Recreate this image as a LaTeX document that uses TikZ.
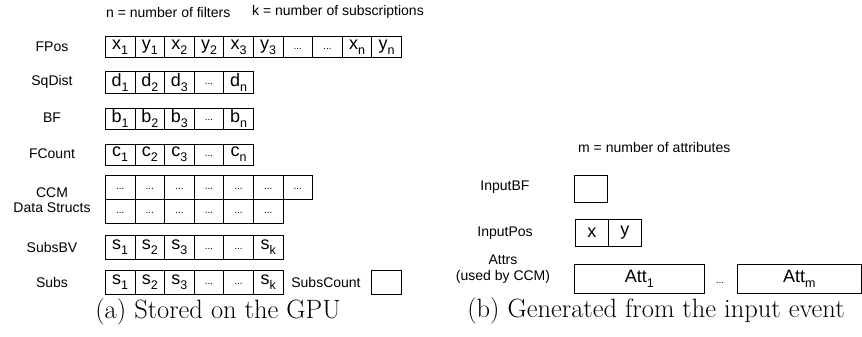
\documentclass[tikz,border=0pt]{standalone}
\usepackage{fontspec}
\newfontfamily\arialf{Liberation Sans}
\newcommand{\sbs}[2]{#1\raisebox{-0.28em}{\fontsize{12.5}{12.5}\selectfont #2}}
\newcommand{\dts}{\raisebox{-0.25em}{\fontsize{10}{10}\selectfont ...}}
\tikzset{
  cellbox/.style={draw, line width=0.8pt, minimum width=29.6pt, minimum height=24pt,
    inner sep=0pt, anchor=north west, font=\arialf\fontsize{18}{20}\selectfont},
  lowcell/.style={cellbox, minimum height=21pt},
  inbox/.style={draw, line width=0.8pt, minimum height=27pt, inner sep=0pt,
    anchor=north west, font=\arialf\fontsize{18}{20}\selectfont},
  lbl/.style={font=\arialf\fontsize{14}{15.5}\selectfont, align=center, inner sep=0pt},
  captxt/.style={font=\fontsize{26.5}{30}\selectfont, inner sep=0pt}
}
\begin{document}
\begin{tikzpicture}[x=1pt,y=-1pt]
\useasboundingbox (0,0) rectangle (862,337);
% header
\node[lbl, anchor=west] (hn) at (106,12) {n = number of filters};
\node[lbl, anchor=west] (hk) at (252,12) {k = number of subscriptions};
% labels left
\node[lbl] (lfpos) at (52,47) {FPos};
\node[lbl] (lsq) at (52,82) {SqDist};
\node[lbl] (lbf) at (52,118) {BF};
\node[lbl] (lfc) at (52,154) {FCount};
\node[lbl] (lccm) at (52,200) {CCM\\Data Structs};
\node[lbl] (lsbv) at (52,247) {SubsBV};
\node[lbl] (lsubs) at (52,282) {Subs};
% FPos
\foreach \t [count=\i from 0] in {{\sbs{x}{1}},{\sbs{y}{1}},{\sbs{x}{2}},{\sbs{y}{2}},{\sbs{x}{3}},{\sbs{y}{3}},{\dts},{\dts},{\sbs{x}{n}},{\sbs{y}{n}}}
  \node[lowcell] (fpos\i) at (105+29.6*\i,36.5) {\t};
% SqDist
\foreach \t [count=\i from 0] in {{\sbs{d}{1}},{\sbs{d}{2}},{\sbs{d}{3}},{\dts},{\sbs{d}{n}}}
  \node[lowcell] (sq\i) at (105+29.6*\i,71.5) {\t};
% BF
\foreach \t [count=\i from 0] in {{\sbs{b}{1}},{\sbs{b}{2}},{\sbs{b}{3}},{\dts},{\sbs{b}{n}}}
  \node[lowcell] (bf\i) at (105+29.6*\i,107.5) {\t};
% FCount
\foreach \t [count=\i from 0] in {{\sbs{c}{1}},{\sbs{c}{2}},{\sbs{c}{3}},{\dts},{\sbs{c}{n}}}
  \node[lowcell] (fc\i) at (105+29.6*\i,143.5) {\t};
% CCM
\foreach \i in {0,...,6}
  \node[cellbox] (ccma\i) at (105+29.6*\i,175) {\dts};
\foreach \i in {0,...,5}
  \node[cellbox] (ccmb\i) at (105+29.6*\i,199) {\dts};
% SubsBV
\foreach \t [count=\i from 0] in {{\sbs{s}{1}},{\sbs{s}{2}},{\sbs{s}{3}},{\dts},{\dts},{\sbs{s}{k}}}
  \node[cellbox] (sbv\i) at (105+29.6*\i,235) {\t};
% Subs
\foreach \t [count=\i from 0] in {{\sbs{s}{1}},{\sbs{s}{2}},{\sbs{s}{3}},{\dts},{\dts},{\sbs{s}{k}}}
  \node[cellbox] (subs\i) at (105+29.6*\i,270) {\t};
\node[lbl] (lscnt) at (326,282) {SubsCount};
\node[cellbox] (scnt) at (371,270) {};
% caption a
\node[captxt] (capa) at (218,312) {(a) Stored on the GPU};
% right side
\node[lbl, anchor=west] (hm) at (578,147) {m = number of attributes};
\node[lbl] (libf) at (505,187) {InputBF};
\node[inbox, minimum width=33pt] (ibf) at (574,175) {};
\node[lbl] (lipos) at (505,233) {InputPos};
\node[inbox, minimum width=33pt] (ipx) at (575,219) {x};
\node[inbox, minimum width=33pt] (ipy) at (608,219) {y};
\node[lbl] (lattr) at (503,269) {Attrs\\(used by CCM)};
\node[inbox, minimum width=130pt, minimum height=29pt] (att1) at (574,264) {\sbs{Att}{1}};
\node[lbl] (adots) at (720,282) {\dts};
\node[inbox, minimum width=124pt, minimum height=29pt] (attm) at (737,264) {\sbs{Att}{m}};
% caption b
\node[captxt] (capb) at (656,311) {(b) Generated from the input event};
\end{tikzpicture}
\end{document}
